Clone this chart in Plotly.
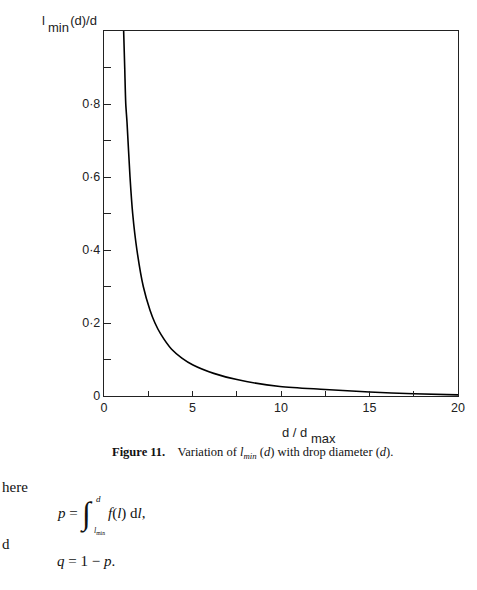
import plotly.graph_objects as go

# ---- data ----
d_ratio = [1.11, 1.17, 1.23, 1.30, 1.47, 1.62, 1.86, 2.22, 2.6, 2.88, 3.2, 3.82, 4.4, 5.03, 6.2, 7.51, 9.94, 12.5, 15.0, 17.5, 20.0]
lmin_ratio = [1.0, 0.9, 0.8, 0.75, 0.6, 0.5, 0.4, 0.3, 0.235, 0.2, 0.17, 0.128, 0.104, 0.085, 0.062, 0.045, 0.026, 0.018, 0.011, 0.006, 0.003]

y_tickvals = [0, 0.1, 0.2, 0.3, 0.4, 0.5, 0.6, 0.7, 0.8, 0.9, 1.0]
y_ticktext = ["0", " ", "0·2", " ", "0·4", " ", "0·6", " ", "0·8", " ", " "]
x_tickvals = [0, 2.5, 5, 7.5, 10, 12.5, 15, 17.5, 20]
x_ticktext = ["0", " ", "5", " ", "10", " ", "15", " ", "20"]

W, H = 477, 590
L, R, T, B = 104, 458, 31, 396


def px(x):
    return (x - L) / (R - L)


def py(y):
    return (B - y) / (B - T)


fig = go.Figure()
fig.add_trace(go.Scatter(
    x=d_ratio, y=lmin_ratio, mode="lines",
    line=dict(color="black", width=1.6, shape="spline", smoothing=0.8),
    showlegend=False, hoverinfo="skip", cliponaxis=True,
))

axis_common = dict(
    showgrid=False, zeroline=False, showline=True, mirror=True,
    linecolor="#222", linewidth=1.4, ticks="inside", tickcolor="#222",
    tickwidth=1.2, tickfont=dict(family="Liberation Sans, Arial", size=12.5, color="#222"),
)
fig.update_xaxes(range=[0, 20], tickmode="array", tickvals=x_tickvals, ticktext=x_ticktext,
                 ticklen=5, **axis_common)
fig.update_yaxes(range=[0, 1.0], tickmode="array", tickvals=y_tickvals, ticktext=y_ticktext,
                 ticklen=7, **axis_common)

sans = dict(family="Liberation Sans, Arial", size=13, color="#222")
serif = dict(family="Liberation Serif, Times New Roman", size=12.5, color="#111")
serif15 = dict(family="Liberation Serif, Times New Roman", size=15, color="#111")

ann = []


def add(text, x, y, font, xanchor="left", yanchor="middle"):
    ann.append(dict(text=text, x=px(x), y=py(y), xref="paper", yref="paper",
                    showarrow=False, font=font, xanchor=xanchor, yanchor=yanchor))


# y-axis title
add("l" + "&nbsp;" * 7 + "(d)/d", 40, 20, sans)
add("min", 46, 28, sans)
# x-axis title
add("d / d", 280, 433, sans)
add("max", 309, 438, sans)
# caption
add("<b>Figure 11.</b>    Variation of <i>l<sub>min</sub></i> (<i>d</i>) with drop diameter (<i>d</i>).",
    252, 453, serif, xanchor="center")
# body text
add("here", 0, 487, serif15)
add("<i>p</i> =", 55, 513, serif15)
add("∫", 78, 514, dict(serif15, size=32))
add("<i>d</i>", 94, 499, dict(serif, size=9))
add("<i>l</i><sub>min</sub>", 92, 531, dict(serif, size=8))
add("<i>f</i>(<i>l</i>) d<i>l</i>,", 106, 513, serif15)
add("d", 0, 544, serif15)
add("<i>q</i> = 1 − <i>p</i>.", 55, 561, serif15)

fig.update_layout(
    width=W, height=H, autosize=False,
    margin=dict(l=L, r=W - R, t=T, b=H - B, pad=0),
    paper_bgcolor="white", plot_bgcolor="white",
    annotations=ann,
)
fig.write_html("out.html")
